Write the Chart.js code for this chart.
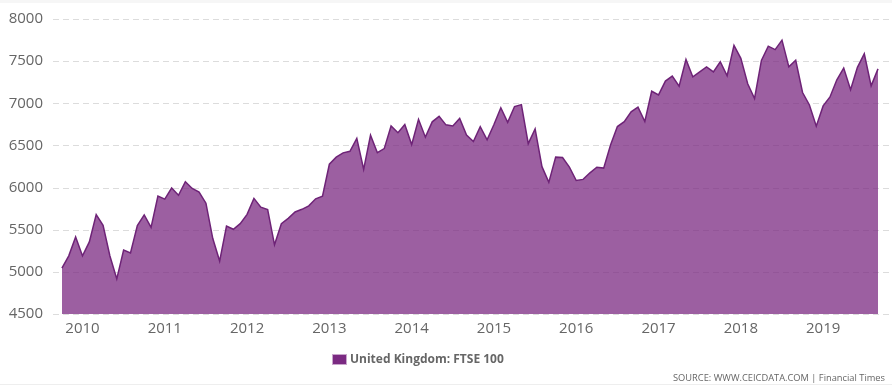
<!DOCTYPE html>
<html>
<head>
<meta charset="utf-8">
<script src="https://cdn.jsdelivr.net/npm/chart.js@4/dist/chart.umd.min.js"></script>
<style>
    html, body { margin: 0; padding: 0; background: #fff; }
    #wrap { width: 892px; height: 385px; position: relative; }
</style>
</head>
<body>
<div id="wrap"><canvas id="ftse-plot" width="892" height="385"></canvas></div>
<script>
// FTSE 100, month-end values, Oct 2009 - Sep 2019
const values2009 = [5044, 5190, 5413]
const values2010 = [5189, 5355, 5680, 5553, 5188, 4917, 5258, 5225, 5549, 5675, 5528, 5900]
const values2011 = [5863, 5994, 5909, 6070, 5990, 5946, 5815, 5395, 5128, 5544, 5505, 5572]
const values2012 = [5682, 5872, 5768, 5738, 5321, 5571, 5635, 5711, 5742, 5783, 5867, 5898]
const values2013 = [6277, 6361, 6412, 6430, 6583, 6215, 6621, 6413, 6462, 6731, 6651, 6749]
const values2014 = [6510, 6810, 6598, 6780, 6845, 6744, 6730, 6820, 6623, 6546, 6723, 6566]
const values2015 = [6749, 6947, 6773, 6961, 6984, 6521, 6696, 6248, 6062, 6361, 6356, 6242]
const values2016 = [6084, 6097, 6175, 6242, 6231, 6504, 6724, 6782, 6899, 6954, 6784, 7143]
const values2017 = [7099, 7263, 7323, 7204, 7520, 7313, 7372, 7431, 7373, 7493, 7327, 7688]
const values2018 = [7534, 7232, 7057, 7509, 7678, 7637, 7749, 7432, 7510, 7128, 6980, 6728]
const values2019 = [6969, 7075, 7279, 7418, 7162, 7426, 7587, 7207, 7408]

const yearLabels = ['2010', '2011', '2012', '2013', '2014', '2015', '2016', '2017', '2018', '2019']
const seriesLabel = 'United Kingdom: FTSE 100'
const sourceText = 'SOURCE: WWW.CEICDATA.COM | Financial Times'

const allValues = [].concat(values2009, values2010, values2011, values2012, values2013,
    values2014, values2015, values2016, values2017, values2018, values2019)
const points = allValues.map((v, i) => ({x: i, y: v}))
// January of each year sits after the 3 months of 2009
const yearTickIdx = yearLabels.map((y, i) => values2009.length + i * 12)

const purple = '#7b2a82'
const textColor = '#666666'

// dashed horizontal grid, drawn under the area
const gridPlugin = {
    id: 'dashGrid',
    beforeDatasetsDraw(chart) {
        const c = chart.ctx
        const y = chart.scales.y
        const area = chart.chartArea
        c.save()
        c.strokeStyle = '#dcdcdc'
        c.lineWidth = 1
        c.setLineDash([6, 4])
        y.ticks.forEach(t => {
            const py = Math.round(y.getPixelForValue(t.value)) + 0.5
            c.beginPath()
            c.moveTo(area.left, py)
            c.lineTo(area.right, py)
            c.stroke()
        })
        c.restore()
    }
}

// legend + source drawn by hand so they sit where the original has them
const footerPlugin = {
    id: 'footer',
    afterDraw(chart) {
        const c = chart.ctx
        c.save()
        c.fillStyle = '#f6f6f6'
        c.fillRect(0, 0, chart.width, 3)
        c.fillStyle = '#eeeeee'
        c.fillRect(0, chart.height - 1, chart.width, 1)

        c.fillStyle = purple
        c.fillRect(332, 354, 15, 11)
        c.strokeStyle = '#c9a6cc'
        c.lineWidth = 1
        c.strokeRect(332.5, 354.5, 14, 10)

        c.fillStyle = textColor
        c.font = 'bold 12px "Open Sans"'
        c.textBaseline = 'middle'
        c.textAlign = 'left'
        c.fillText(seriesLabel, 350, 360)

        c.font = '9.3px "Open Sans"'
        c.textAlign = 'right'
        c.fillText(sourceText, 885, 378)
        c.restore()
    }
}

new Chart(document.getElementById('ftse-plot'), {
    type: 'line',
    data: {
        datasets: [{
            label: seriesLabel,
            data: points,
            borderColor: '#6e2377',
            borderWidth: 1.5,
            backgroundColor: 'rgba(123, 42, 130, 0.75)',
            fill: 'start',
            pointRadius: 0,
            tension: 0
        }]
    },
    options: {
        responsive: false,
        animation: false,
        layout: {
            padding: {top: 11, right: 2, left: 0, bottom: 0}
        },
        scales: {
            x: {
                type: 'linear',
                min: -1.3,
                max: 120.75,
                afterBuildTicks: (scale) => {
                    scale.ticks = yearTickIdx.map(v => ({value: v}))
                },
                afterFit: (scale) => { scale.height = 71 },
                grid: {display: false, drawTicks: false},
                border: {display: false},
                ticks: {
                    autoSkip: false,
                    maxRotation: 0,
                    padding: 6,
                    color: textColor,
                    font: {family: 'Open Sans', size: 15},
                    callback: (v) => {
                        const k = yearTickIdx.indexOf(v)
                        return k >= 0 ? yearLabels[k] : ''
                    }
                }
            },
            y: {
                min: 4500,
                max: 8000,
                afterFit: (scale) => { scale.width = 53 },
                grid: {display: false, drawTicks: false},
                border: {display: false},
                ticks: {
                    stepSize: 500,
                    padding: 10,
                    color: textColor,
                    font: {family: 'Open Sans', size: 15},
                    callback: (v) => String(v)
                }
            }
        },
        plugins: {
            legend: {display: false},
            tooltip: {enabled: false}
        }
    },
    plugins: [gridPlugin, footerPlugin]
})
</script>
</body>
</html>
